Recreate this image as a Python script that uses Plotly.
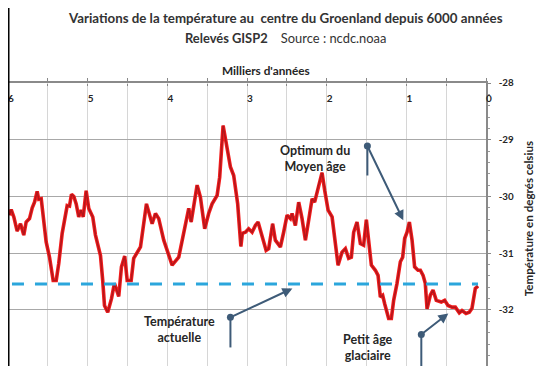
import plotly.graph_objects as go

# Red curve: thousands of years before present, temperature (°C)
years_k = [5.981, 5.960, 5.927, 5.885, 5.843, 5.802, 5.772, 5.730, 5.696, 5.667,
           5.634, 5.614, 5.583, 5.563, 5.521, 5.479, 5.433, 5.395, 5.363, 5.320,
           5.279, 5.257, 5.228, 5.203, 5.174, 5.144, 5.112, 5.082, 5.056, 5.019,
           4.986, 4.936, 4.902, 4.839, 4.811, 4.789, 4.748, 4.701, 4.664, 4.639,
           4.610, 4.576, 4.535, 4.504, 4.454, 4.422, 4.337, 4.262, 4.191, 4.149,
           4.108, 4.045, 3.940, 3.857, 3.814, 3.731, 3.701, 3.626, 3.585, 3.531,
           3.481, 3.438, 3.375, 3.343, 3.300, 3.271, 3.208, 3.167, 3.117, 3.077,
           3.058, 3.020, 2.979, 2.936, 2.895, 2.861, 2.811, 2.760, 2.728, 2.678,
           2.644, 2.581, 2.540, 2.497, 2.455, 2.434, 2.393, 2.351, 2.309, 2.267,
           2.226, 2.183, 2.151, 2.108, 2.058, 2.025, 1.982, 1.932, 1.900, 1.857,
           1.807, 1.765, 1.724, 1.690, 1.661, 1.619, 1.577, 1.536, 1.502, 1.464,
           1.439, 1.389, 1.355, 1.326, 1.297, 1.272, 1.222, 1.188, 1.159, 1.117,
           1.075, 1.046, 1.021, 0.991, 0.962, 0.928, 0.896, 0.853, 0.824, 0.790,
           0.762, 0.740, 0.699, 0.665, 0.624, 0.561, 0.519, 0.477, 0.427, 0.385,
           0.335, 0.301, 0.251, 0.210, 0.176, 0.134, 0.100]
temps = [-30.33, -30.23, -30.36, -30.61, -30.48, -30.68, -30.45, -30.39, -30.20, -30.10,
         -29.91, -30.05, -30.04, -30.30, -30.80, -31.07, -31.48, -31.48, -31.18, -30.65,
         -30.36, -30.16, -30.17, -29.96, -30.00, -30.13, -30.36, -30.24, -30.36, -29.90,
         -30.21, -30.36, -30.68, -31.04, -31.48, -31.92, -32.04, -31.80, -31.53, -31.62,
         -31.76, -31.24, -31.05, -31.48, -31.48, -31.09, -30.89, -30.13, -30.48, -30.30,
         -30.39, -30.77, -31.21, -31.07, -30.80, -30.21, -30.45, -29.80, -30.01, -30.57,
         -30.30, -30.13, -29.98, -29.66, -28.75, -28.98, -29.48, -29.63, -30.13, -30.88,
         -30.65, -30.63, -30.57, -30.63, -30.51, -30.45, -30.71, -30.95, -30.92, -30.48,
         -30.77, -30.89, -30.63, -30.33, -30.39, -30.30, -30.51, -30.10, -30.39, -30.77,
         -30.42, -30.04, -30.10, -29.83, -29.58, -29.89, -30.24, -30.36, -30.71, -31.21,
         -30.98, -30.92, -31.09, -31.07, -30.63, -30.45, -30.83, -30.86, -30.41, -30.95,
         -31.21, -31.30, -31.39, -31.77, -31.74, -31.89, -32.15, -32.15, -31.83, -31.53,
         -31.15, -31.07, -30.74, -30.63, -30.45, -30.77, -31.24, -31.30, -31.30, -31.39,
         -31.53, -31.98, -31.74, -31.65, -31.83, -31.86, -31.83, -31.92, -31.95, -31.95,
         -32.05, -32.01, -32.06, -32.04, -31.97, -31.62, -31.58]

# Current temperature (dashed line)
current_x = [5.95, 0.10]
current_temp = [-31.54, -31.54]

# Axis ticks
x_range = [6.0, 0.0]
y_range = [-32.987, -28]
x_tickvals = [6, 5.5, 5, 4.5, 4, 3.5, 3, 2.5, 2, 1.5, 1, 0.5, 0]
x_ticktext = ["6", "", "5", "", "4", "", "3", "", "2", "", "1", "", "0"]
y_tickvals = [-33, -32, -31, -30, -29, -28]
y_ticktext = ["-33", "-32", "-31", "-30", "-29", "-28"]

# Annotations: label text, label position, dot position, stem end, arrow tip
labels = ["Optimum du<br>Moyen âge", "Température<br>actuelle", "Petit âge<br>glaciaire"]
label_x = [2.141, 3.846, 1.477]
label_y = [-29.33, -32.34, -32.66]
dot_x = [1.489, 3.208, 0.812]
dot_y = [-29.11, -32.13, -32.43]
stem_end_y = [-29.63, -32.66, -33.0]
tip_x = [1.038, 2.430, 0.473]
tip_y = [-30.42, -31.62, -32.06]

FONT = "Lato"
TXT = "#262626"
ARROW = "#3e5b78"

fig = go.Figure()

fig.add_trace(go.Scatter(x=current_x, y=current_temp, mode="lines", xaxis="x2",
                         line=dict(color="#2ba6dc", width=3, dash="12px,11px"),
                         hoverinfo="skip", showlegend=False))
fig.add_trace(go.Scatter(x=years_k, y=temps, mode="lines",
                         line=dict(color="#f21c1c", width=3.6),
                         hoverinfo="skip", showlegend=False))
fig.add_trace(go.Scatter(x=years_k, y=temps, mode="lines",
                         line=dict(color="#b3161b", width=1.5),
                         hoverinfo="skip", showlegend=False))

# stems and dots
for i in range(len(labels)):
    fig.add_trace(go.Scatter(x=[dot_x[i], dot_x[i]], y=[dot_y[i], stem_end_y[i]],
                             mode="lines", line=dict(color=ARROW, width=2),
                             hoverinfo="skip", showlegend=False, cliponaxis=False))
fig.add_trace(go.Scatter(x=dot_x, y=dot_y, mode="markers",
                         marker=dict(color=ARROW, size=7),
                         hoverinfo="skip", showlegend=False))

annotations = []
for i in range(len(labels)):
    annotations.append(dict(x=tip_x[i], y=tip_y[i], xref="x", yref="y",
                            ax=dot_x[i], ay=dot_y[i], axref="x", ayref="y",
                            text="", showarrow=True, arrowhead=2, arrowsize=1,
                            arrowwidth=2, arrowcolor=ARROW))
    annotations.append(dict(x=label_x[i], y=label_y[i], xref="x", yref="y",
                            text=labels[i], showarrow=False,
                            xanchor="center", yanchor="middle",
                            font=dict(family=FONT, size=12.5, color=TXT, weight="bold"),
                            align="center"))

annotations.append(dict(xref="paper", yref="paper", x=0.5795, y=1.2286,
                        xanchor="center", yanchor="middle",
                        text="<b>Variations de la température au \u00a0centre du Groenland depuis 6000 années</b>",
                        showarrow=False, font=dict(family=FONT, size=13.3, color="#333333")))
annotations.append(dict(xref="paper", yref="paper", x=0.5795, y=1.159,
                        xanchor="center", yanchor="middle",
                        text="<b>Relevés GISP2</b>\u00a0\u00a0\u00a0\u00a0Source : ncdc.noaa",
                        showarrow=False, font=dict(family=FONT, size=12.9, color="#333333")))
annotations.append(dict(xref="paper", yref="paper", x=0.540, y=1.044,
                        xanchor="center", yanchor="middle",
                        text="<b>Milliers d'années</b>", showarrow=False,
                        font=dict(family=FONT, size=11.8, color=TXT)))
annotations.append(dict(xref="paper", yref="paper", x=1.088, y=0.519,
                        xanchor="center", yanchor="middle",
                        text="<b>Température en degrés celsius</b>", showarrow=False,
                        textangle=-90, font=dict(family=FONT, size=11.6, color=TXT)))

fig.update_layout(
    width=546, height=358,
    margin=dict(l=0, r=68, t=75, b=0, autoexpand=False),
    paper_bgcolor="white", plot_bgcolor="white",
    showlegend=False,
    annotations=annotations,
    shapes=[dict(type="line", xref="paper", yref="paper", x0=0.0016, x1=0.0016,
                 y0=-0.01, y1=1.3, line=dict(color="black", width=1.5))],
    xaxis=dict(range=x_range, side="top", tickvals=x_tickvals, showticklabels=False,
               ticks="outside", ticklen=3, tickcolor="#888888",
               showline=True, linecolor="#8a8a8a", linewidth=1.5,
               showgrid=True, gridcolor="#d6d6d6", gridwidth=1, zeroline=False),
    xaxis2=dict(range=x_range, overlaying="x", anchor="free", position=1, side="bottom",
                tickvals=x_tickvals, ticktext=x_ticktext,
                ticks="outside", ticklen=2, tickcolor="#888888", ticklabelstandoff=4,
                ticklabelshift=-3, ticklabeloverflow="allow",
                showline=False, showgrid=False, zeroline=False,
                tickfont=dict(family=FONT, size=10, color=TXT, weight="bold")),
    yaxis=dict(range=y_range, side="right", tickvals=y_tickvals, ticktext=y_ticktext,
               ticks="outside", ticklen=3, tickcolor="#888888", ticklabelstandoff=6,
               ticklabeloverflow="allow",
               minor=dict(dtick=0.2, ticks="outside", ticklen=2, tickcolor="#999999", showgrid=False),
               showline=True, linecolor="#8a8a8a", linewidth=1.5,
               showgrid=True, gridcolor="#a8a8a8", gridwidth=1, zeroline=False,
               tickfont=dict(family=FONT, size=9.8, color=TXT, weight="bold")),
)

fig.write_html("out.html")
